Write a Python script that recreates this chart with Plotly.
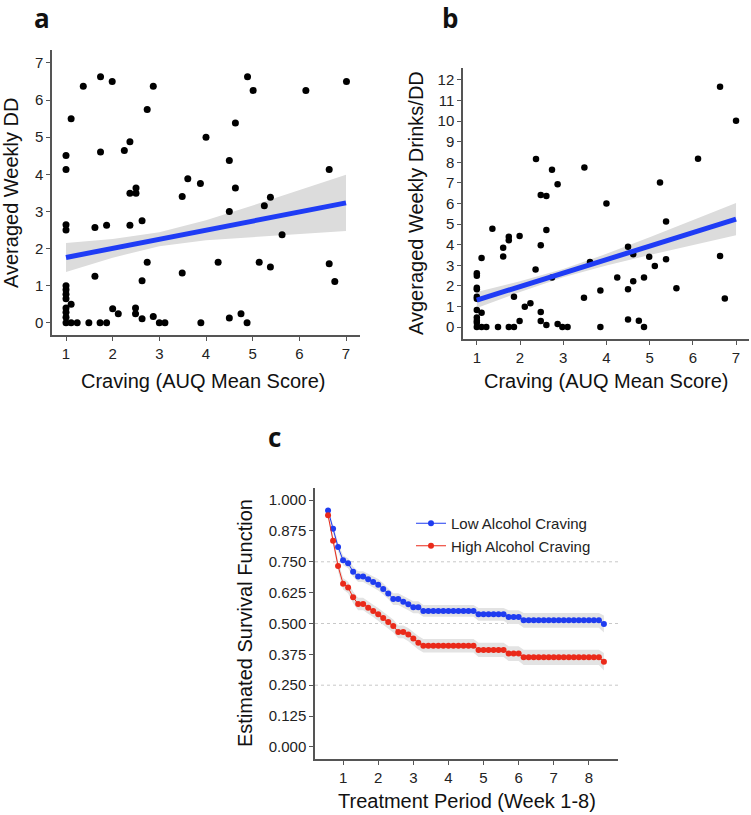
import plotly.graph_objects as go

# ---------------- Panel a data ----------------
a_x = [1.37, 1.74, 1.99, 1.11, 2.74, 2.87, 1.00, 1.00, 1.74, 2.25, 2.37, 3.61,
       4.89, 5.01, 6.14, 7.01, 4.63, 4.00, 4.50, 3.88, 4.63, 6.64,
       2.37, 2.50, 2.50, 3.49, 1.00, 1.00, 1.62, 1.87, 2.37, 2.63, 1.62, 2.74,
       2.63, 3.49, 1.00, 1.00, 1.00, 1.00, 1.00, 1.00, 1.00, 1.00, 1.11,
       1.11, 1.24, 1.49, 1.73, 1.87, 3.00, 3.12, 2.00, 2.12, 2.49, 2.49, 2.63, 2.87,
       4.50, 5.25, 5.38, 5.63, 4.26, 5.14, 5.38, 6.64, 6.76, 3.89, 4.50, 4.75, 4.88]
a_y = [6.37, 6.63, 6.50, 5.50, 5.75, 6.37, 4.51, 4.13, 4.60, 4.64, 4.88, 3.88,
       6.63, 6.26, 6.26, 6.50, 5.38, 5.00, 4.37, 3.75, 3.63, 4.13,
       3.49, 3.63, 3.49, 3.40, 2.64, 2.50, 2.57, 2.63, 2.63, 2.75, 1.25, 1.63,
       1.13, 1.34, 1.00, 0.89, 0.77, 0.65, 0.40, 0.28, 0.15, 0.00, 0.50,
       0.00, 0.00, 0.00, 0.00, 0.00, 0.00, 0.00, 0.38, 0.24, 0.40, 0.24, 0.11, 0.17,
       3.00, 3.15, 3.38, 2.37, 1.63, 1.63, 1.50, 1.59, 1.11, 0.00, 0.13, 0.24, 0.00]
a_fit_x = [1, 2, 3, 4, 5, 6, 7]
a_fit_y = [1.76, 2.005, 2.25, 2.495, 2.74, 2.985, 3.23]
a_fit_half = [0.39, 0.25, 0.19, 0.27, 0.42, 0.59, 0.76]

# ---------------- Panel b data ----------------
b_x = [2.37, 2.74, 2.87, 6.63, 7.00, 6.12, 3.49, 5.24,
       2.48, 2.61, 1.36, 2.61, 1.61, 1.61, 1.74, 1.74, 1.99, 2.48, 1.11, 2.36,
       1.00, 1.00, 1.00, 1.00, 1.00, 1.00, 1.00, 1.11, 1.86, 2.74, 2.11, 2.24, 2.48,
       1.00, 1.00, 1.00, 1.99, 2.48, 2.61, 2.87,
       1.00, 1.11, 1.22, 1.49, 1.74, 1.86, 2.98, 3.10,
       4.00, 5.38, 6.63, 4.50, 4.62, 4.99, 5.38, 3.62, 5.12, 4.25, 4.87, 4.62,
       4.50, 3.86, 3.48, 5.62, 6.74, 4.50, 4.75, 3.86, 4.87]
b_y = [8.16, 7.64, 6.93, 11.67, 10.02, 8.17, 7.75, 7.02,
       6.41, 6.36, 4.77, 4.71, 3.85, 3.43, 4.38, 4.22, 4.42, 3.97, 3.35, 2.80,
       2.61, 2.49, 1.91, 1.84, 1.47, 1.37, 0.83, 0.70, 1.47, 2.41, 0.99, 1.15, 0.73,
       0.47, 0.31, 0.21, 0.29, 0.29, 0.10, 0.15,
       0.00, 0.00, 0.00, 0.00, 0.00, 0.00, 0.00, 0.00,
       6.00, 5.13, 3.45, 3.90, 3.53, 3.41, 3.29, 3.16, 2.96, 2.41, 2.41, 2.22,
       1.83, 1.78, 1.42, 1.88, 1.39, 0.37, 0.31, 0.00, 0.00]
b_fit_x = [1, 2, 3, 4, 5, 6, 7]
b_fit_y = [1.31, 1.965, 2.62, 3.275, 3.93, 4.585, 5.24]
b_fit_half = [0.39, 0.26, 0.20, 0.28, 0.43, 0.60, 0.78]

# ---------------- Panel c data ----------------
days = [4, 5, 6, 7, 8, 9, 10, 11, 12, 13, 14, 15, 16, 17, 18, 19, 20, 21, 22,
        23, 24, 25, 26, 27, 28, 29, 30, 31, 32, 33, 34, 35, 36, 37, 38, 39,
        40, 41, 42, 43, 44, 45, 46, 47, 48, 49, 50, 51, 52, 53, 54, 55, 56, 57, 58, 59]
low_surv = [0.958, 0.884, 0.810, 0.756, 0.744, 0.710, 0.690, 0.690, 0.679, 0.668,
            0.657, 0.640, 0.622, 0.599, 0.599, 0.588, 0.578, 0.566, 0.566,
            0.551, 0.551, 0.551, 0.551, 0.551, 0.551, 0.551, 0.551, 0.551, 0.551, 0.551,
            0.537, 0.537, 0.537, 0.537, 0.537, 0.537,
            0.526, 0.526, 0.526,
            0.513, 0.513, 0.513, 0.513, 0.513, 0.513, 0.513, 0.513, 0.513, 0.513,
            0.513, 0.513, 0.513, 0.513, 0.513, 0.513, 0.498]
high_surv = [0.939, 0.835, 0.733, 0.661, 0.646, 0.606, 0.579, 0.579, 0.564, 0.551,
             0.537, 0.522, 0.506, 0.490, 0.466, 0.466, 0.455, 0.439, 0.422,
             0.410, 0.410, 0.410, 0.410, 0.410, 0.410, 0.410, 0.410, 0.410, 0.410, 0.410,
             0.393, 0.393, 0.393, 0.393, 0.393, 0.393,
             0.378, 0.378, 0.378,
             0.363, 0.363, 0.363, 0.363, 0.363, 0.363, 0.363, 0.363, 0.363, 0.363,
             0.363, 0.363, 0.363, 0.363, 0.363, 0.363, 0.345]
low_half = [0.012, 0.015, 0.018, 0.020, 0.020, 0.021, 0.022, 0.022, 0.022, 0.022,
            0.023, 0.023, 0.023, 0.024, 0.024, 0.024, 0.024, 0.024, 0.024,
            0.024, 0.024, 0.024, 0.024, 0.024, 0.024, 0.024, 0.024, 0.024, 0.024, 0.024,
            0.026, 0.026, 0.026, 0.026, 0.026, 0.026,
            0.028, 0.028, 0.028,
            0.030, 0.030, 0.030, 0.030, 0.030, 0.030, 0.030, 0.030, 0.030, 0.030,
            0.030, 0.030, 0.030, 0.030, 0.030, 0.030, 0.034]
high_half = [0.014, 0.018, 0.021, 0.023, 0.023, 0.024, 0.025, 0.025, 0.025, 0.025,
             0.026, 0.026, 0.026, 0.026, 0.026, 0.026, 0.027, 0.027, 0.027,
             0.027, 0.027, 0.027, 0.027, 0.027, 0.027, 0.027, 0.027, 0.027, 0.027, 0.027,
             0.029, 0.029, 0.029, 0.029, 0.029, 0.029,
             0.030, 0.030, 0.030,
             0.031, 0.031, 0.031, 0.031, 0.031, 0.031, 0.031, 0.031, 0.031, 0.031,
             0.031, 0.031, 0.031, 0.031, 0.031, 0.031, 0.035]
c_yticks = [0.0, 0.125, 0.25, 0.375, 0.5, 0.625, 0.75, 0.875, 1.0]
c_ytick_labels = ["0.000", "0.125", "0.250", "0.375", "0.500", "0.625", "0.750", "0.875", "1.000"]
c_grid = [0.25, 0.5, 0.75]

W, H = 751, 815
FONT = "Liberation Sans, Arial, sans-serif"
BAND = "#dcdcdc"
FITBLUE = "#1f3cf5"
LOWBLUE = "#1f3cf0"
HIGHRED = "#ea2a1a"

fig = go.Figure()

def band(xs, ys, hs, xa, ya, color):
    up = [y + h for y, h in zip(ys, hs)]
    lo = [y - h for y, h in zip(ys, hs)]
    fig.add_trace(go.Scatter(x=list(xs) + list(xs)[::-1], y=up + lo[::-1], fill="toself",
                             fillcolor=color, line=dict(width=0), mode="lines",
                             hoverinfo="skip", showlegend=False, xaxis=xa, yaxis=ya))

# panel a
band(a_fit_x, a_fit_y, a_fit_half, "x", "y", BAND)
fig.add_trace(go.Scatter(x=a_x, y=a_y, mode="markers", marker=dict(color="black", size=7),
                         showlegend=False, xaxis="x", yaxis="y"))
fig.add_trace(go.Scatter(x=a_fit_x, y=a_fit_y, mode="lines", line=dict(color=FITBLUE, width=5),
                         showlegend=False, xaxis="x", yaxis="y"))
# panel b
band(b_fit_x, b_fit_y, b_fit_half, "x2", "y2", BAND)
fig.add_trace(go.Scatter(x=b_x, y=b_y, mode="markers", marker=dict(color="black", size=6.5),
                         showlegend=False, xaxis="x2", yaxis="y2"))
fig.add_trace(go.Scatter(x=b_fit_x, y=b_fit_y, mode="lines", line=dict(color=FITBLUE, width=5),
                         showlegend=False, xaxis="x2", yaxis="y2"))
# panel c
weeks = [d / 7 for d in days]
band(weeks, low_surv, low_half, "x3", "y3", "#e3e3e3")
band(weeks, high_surv, high_half, "x3", "y3", "#e3e3e3")
fig.add_trace(go.Scatter(x=weeks, y=low_surv, mode="lines+markers", name="Low Alcohol Craving",
                         line=dict(color=LOWBLUE, width=1), marker=dict(color=LOWBLUE, size=6),
                         xaxis="x3", yaxis="y3"))
fig.add_trace(go.Scatter(x=weeks, y=high_surv, mode="lines+markers", name="High Alcohol Craving",
                         line=dict(color=HIGHRED, width=1), marker=dict(color=HIGHRED, size=6),
                         xaxis="x3", yaxis="y3"))

def px_x(p):
    return p / W

def px_y(p):
    return 1 - p / H

axis_common = dict(showline=True, linecolor="#555555", linewidth=1.5, ticks="outside",
                   ticklen=4, tickwidth=1, tickcolor="#555555", showgrid=False, zeroline=False,
                   tickfont=dict(family=FONT, size=15, color="#222222"), fixedrange=True)

fig.update_layout(
    width=W, height=H, margin=dict(l=0, r=0, t=0, b=0),
    plot_bgcolor="white", paper_bgcolor="white",
    xaxis=dict(domain=[px_x(52), px_x(360)], range=[0.7, 7.3], anchor="y",
               tickvals=[1, 2, 3, 4, 5, 6, 7], **axis_common),
    yaxis=dict(domain=[px_y(335), px_y(50)], range=[-0.33, 7.35], anchor="x",
               tickvals=[0, 1, 2, 3, 4, 5, 6, 7], **axis_common),
    xaxis2=dict(domain=[px_x(463), px_x(749)], range=[0.68, 7.3], anchor="y2",
                tickvals=[1, 2, 3, 4, 5, 6, 7], **axis_common),
    yaxis2=dict(domain=[px_y(339), px_y(68)], range=[-0.58, 12.58], anchor="x2",
                tickvals=list(range(0, 13)), **axis_common),
    xaxis3=dict(domain=[px_x(315), px_x(618)], range=[0.2, 8.83], anchor="y3",
                tickvals=[1, 2, 3, 4, 5, 6, 7, 8], **axis_common),
    yaxis3=dict(domain=[px_y(759), px_y(488)], range=[-0.049, 1.049], anchor="x3",
                tickvals=c_yticks, ticktext=c_ytick_labels, **axis_common),
    legend=dict(x=px_x(411), y=px_y(507), xanchor="left", yanchor="top",
                font=dict(family=FONT, size=15, color="#222222"), bgcolor="rgba(0,0,0,0)",
                tracegroupgap=0, itemwidth=30),
    showlegend=True,
)

for g in c_grid:
    fig.add_shape(type="line", xref="x3 domain", yref="y3", x0=0, x1=1, y0=g, y1=g,
                  line=dict(color="#c8c8c8", width=1, dash="dot"), layer="below")

title_font = dict(family=FONT, size=20, color="#111111")
ann = [
    dict(text="Craving (AUQ Mean Score)", x=px_x(203), y=px_y(381)),
    dict(text="Craving (AUQ Mean Score)", x=px_x(606), y=px_y(381)),
    dict(text="Treatment Period (Week 1-8)", x=px_x(467), y=px_y(801)),
    dict(text="Averaged Weekly DD", x=px_x(11), y=px_y(193), textangle=-90),
    dict(text="Avgeraged Weekly Drinks/DD", x=px_x(416), y=px_y(203), textangle=-90),
    dict(text="Estimated Survival Function", x=px_x(245), y=px_y(623), textangle=-90),
]
for a in ann:
    fig.add_annotation(xref="paper", yref="paper", xanchor="center", yanchor="middle",
                       showarrow=False, font=title_font, **a)

label_font = dict(family="Open Sans, DejaVu Sans, sans-serif", size=26, color="#111111")
for t, x, y in [("a", 42, 18), ("b", 450, 18), ("c", 274, 437)]:
    fig.add_annotation(text="<b>%s</b>" % t, xref="paper", yref="paper", x=px_x(x), y=px_y(y),
                       xanchor="center", yanchor="middle", showarrow=False, font=label_font)

fig.write_html("out.html", config={"displayModeBar": False},
               post_script="document.body.style.margin='0';document.body.style.overflow='hidden';")
